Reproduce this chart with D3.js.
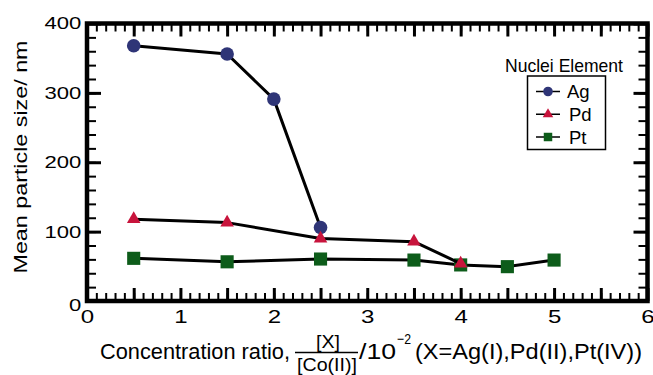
<!DOCTYPE html>
<html>
<head>
<meta charset="utf-8">
<script src="https://cdn.jsdelivr.net/npm/d3@7"></script>
<style>
  body { margin: 0; background: #fff; }
  svg text { font-family: "Liberation Sans", Arial, sans-serif; fill: #000; }
</style>
</head>
<body>
<div id="chart"></div>
<script>
// chart data
const agX = [0.5, 1.5, 2.0, 2.5];
const agY = [368, 356, 291, 106];
const pdX = [0.5, 1.5, 2.5, 3.5, 4.0];
const pdY = [118, 113, 90, 85.5, 54];
const ptX = [0.5, 1.5, 2.5, 3.5, 4.0, 4.5, 5.0];
const ptY = [61.5, 56.5, 60.5, 59, 52, 49.5, 59];
const seriesNames = ["Ag", "Pd", "Pt"];
const xTickLabels = [0, 1, 2, 3, 4, 5, 6];
const yTickLabels = [0, 100, 200, 300, 400];

const width = 653, height = 375;
const colors = { Ag: "#2f3577", Pd: "#c8143c", Pt: "#0d5c1a" };
const symbols = { Ag: d3.symbolCircle, Pd: d3.symbolTriangle, Pt: d3.symbolSquare };
const sizes = { Ag: 145, Pd: 80, Pt: 172 };

const svg = d3.select("#chart").append("svg")
    .attr("width", width)
    .attr("height", height);

const x = d3.scaleLinear().domain([0, 6]).range([87, 647.5]);
const y = d3.scaleLinear().domain([0, 400]).range([301, 23.5]);

const xMinor = d3.range(0, 61).map(i => i / 10);
const xMajor = d3.range(0, 13).map(i => i / 2);
const yMinor = d3.range(0, 21).map(i => i * 20);

// ticks on all four sides, pointing inward
function tickLayer(axis, tx, ty, sw) {
    const g = svg.append("g").attr("transform", `translate(${tx},${ty})`).call(axis);
    g.select(".domain").remove();
    g.selectAll(".tick line").attr("stroke", "#000").attr("stroke-width", sw);
    return g;
}
tickLayer(d3.axisBottom(x).tickValues(xMinor).tickSize(-8).tickFormat(""), 0, y(0), 2);
tickLayer(d3.axisTop(x).tickValues(xMinor).tickSize(-8).tickFormat(""), 0, y(400), 2);
tickLayer(d3.axisTop(x).tickValues(xMajor).tickSize(-13).tickFormat(""), 0, y(400), 3);
tickLayer(d3.axisLeft(y).tickValues(yMinor).tickSize(-9).tickFormat(""), x(0), 0, 2);
tickLayer(d3.axisRight(y).tickValues(yMinor).tickSize(-9).tickFormat(""), x(6), 0, 2);
tickLayer(d3.axisRight(y).tickValues(yTickLabels).tickSize(-14).tickFormat(""), x(6), 0, 3);

const xAxis = tickLayer(d3.axisBottom(x).tickValues(xMajor).tickSize(-13).tickPadding(9)
    .tickFormat(d => xTickLabels.includes(d) ? d : ""), 0, y(0), 3);
xAxis.selectAll("text")
    .style("font-size", "18.5px")
    .attr("transform", "scale(1.3,1)");

const yAxis = tickLayer(d3.axisLeft(y).tickValues(yTickLabels).tickSize(-14).tickPadding(4.4), x(0), 0, 3);
yAxis.selectAll("text")
    .style("font-size", "17px")
    .attr("transform", d => d === 0 ? "translate(0,4) scale(1.3,1)" : "scale(1.3,1)");

// frame
svg.append("rect")
    .attr("x", x(0)).attr("y", y(400))
    .attr("width", x(6) - x(0)).attr("height", y(0) - y(400))
    .attr("fill", "none").attr("stroke", "#000").attr("stroke-width", 4.5);

// series: lines + markers
const series = [
    { name: "Ag", xs: agX, ys: agY },
    { name: "Pt", xs: ptX, ys: ptY },
    { name: "Pd", xs: pdX, ys: pdY }
];
const line = d3.line().x(d => x(d[0])).y(d => y(d[1]));

series.forEach(s => {
    const pts = s.xs.map((v, i) => [v, s.ys[i]]);
    svg.append("path")
        .attr("d", line(pts))
        .attr("fill", "none")
        .attr("stroke", "#000")
        .attr("stroke-width", 3)
        .attr("stroke-linejoin", "round");
    svg.selectAll(null)
        .data(pts)
        .join("path")
        .attr("transform", d => `translate(${x(d[0])},${y(d[1])})`)
        .attr("d", d3.symbol().type(symbols[s.name]).size(sizes[s.name]))
        .attr("fill", colors[s.name]);
});

// legend
svg.append("text")
    .attr("x", 505).attr("y", 71.5)
    .attr("textLength", 118).attr("lengthAdjust", "spacingAndGlyphs")
    .style("font-size", "18.5px")
    .text("Nuclei Element");
svg.append("rect")
    .attr("x", 527.5).attr("y", 76)
    .attr("width", 78).attr("height", 73.5)
    .attr("fill", "#fff").attr("stroke", "#000").attr("stroke-width", 1.5);

const legendY = d3.scalePoint().domain(seriesNames).range([91.5, 137]);
const legendSizes = { Ag: 72, Pd: 48, Pt: 72 };
seriesNames.forEach(name => {
    const ly = legendY(name);
    svg.append("line")
        .attr("x1", 536).attr("x2", 560)
        .attr("y1", ly).attr("y2", ly)
        .attr("stroke", "#000").attr("stroke-width", 1.5);
    svg.append("path")
        .attr("transform", `translate(548,${ly})`)
        .attr("d", d3.symbol().type(symbols[name]).size(legendSizes[name]))
        .attr("fill", colors[name]);
    svg.append("text")
        .attr("x", name === "Ag" ? 567 : 569).attr("y", ly + 6.5)
        .style("font-size", "18.5px")
        .text(name);
});

// y axis title
svg.append("text")
    .attr("transform", "translate(27,157) rotate(-90)")
    .attr("text-anchor", "middle")
    .attr("textLength", 233).attr("lengthAdjust", "spacingAndGlyphs")
    .style("font-size", "19px")
    .text("Mean particle size/ nm");

// x axis title, with the [X]/[Co(II)] fraction
svg.append("text")
    .attr("x", 100).attr("y", 359)
    .attr("textLength", 190).attr("lengthAdjust", "spacingAndGlyphs")
    .style("font-size", "21.5px")
    .text("Concentration ratio,");
svg.append("text")
    .attr("x", 328).attr("y", 347.5)
    .attr("text-anchor", "middle")
    .attr("textLength", 24).attr("lengthAdjust", "spacingAndGlyphs")
    .style("font-size", "19px")
    .text("[X]");
svg.append("line")
    .attr("x1", 295).attr("x2", 358)
    .attr("y1", 352.5).attr("y2", 352.5)
    .attr("stroke", "#000").attr("stroke-width", 1.5);
svg.append("text")
    .attr("x", 327).attr("y", 371)
    .attr("text-anchor", "middle")
    .attr("textLength", 60).attr("lengthAdjust", "spacingAndGlyphs")
    .style("font-size", "19px")
    .text("[Co(II)]");
svg.append("text")
    .attr("x", 359).attr("y", 359)
    .attr("textLength", 37).attr("lengthAdjust", "spacingAndGlyphs")
    .style("font-size", "21.5px")
    .text("/10");
svg.append("text")
    .attr("x", 397).attr("y", 344)
    .attr("textLength", 14).attr("lengthAdjust", "spacingAndGlyphs")
    .style("font-size", "15px")
    .text("\u22122");
svg.append("text")
    .attr("x", 415).attr("y", 359)
    .attr("textLength", 227).attr("lengthAdjust", "spacingAndGlyphs")
    .style("font-size", "21.5px")
    .text("(X=Ag(I),Pd(II),Pt(IV))");
</script>
</body>
</html>
